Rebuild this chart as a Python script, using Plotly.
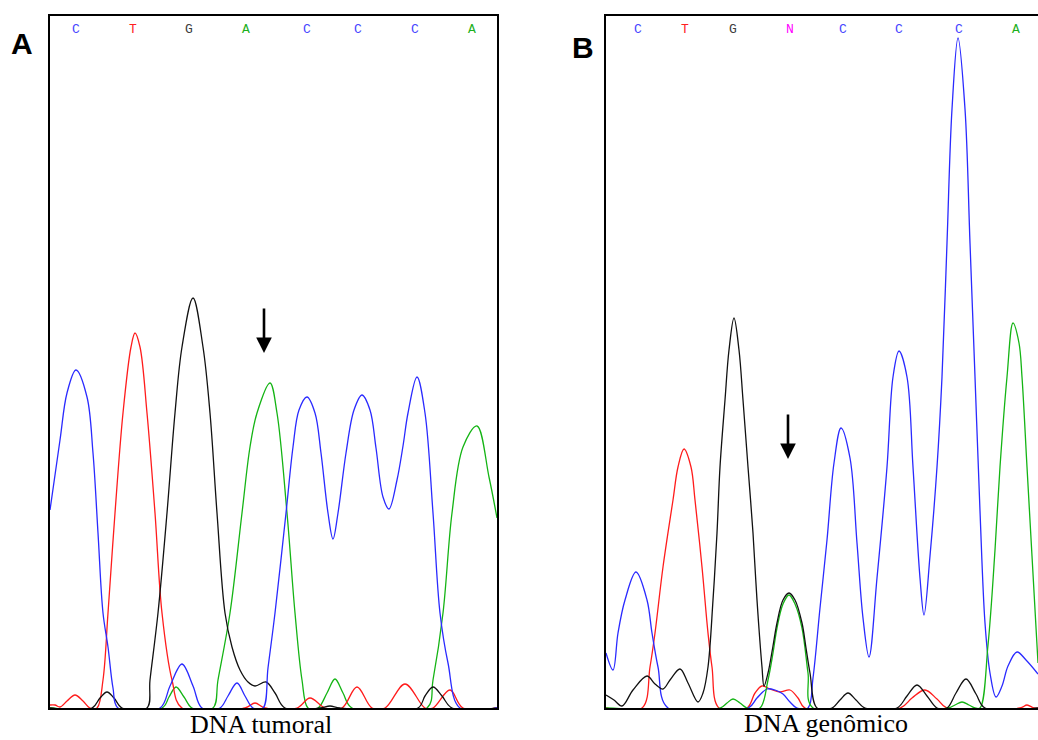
import plotly.graph_objects as go

W, H = 1038, 740

# ---------------- Panel A (DNA tumoral) : signal traces ----------------
a_blue_x = [50, 60, 67, 76, 87, 93, 98, 103, 108, 113, 118, 160, 170, 182, 193, 202, 220, 228, 237, 245,
            253, 263, 268, 275, 286, 293, 299, 307, 315, 321, 328, 333, 338, 346, 354, 362, 370, 376, 383, 389,
            397, 403, 408, 417, 425, 433, 440, 448, 460, 497]
a_blue_y = [198, 268, 315, 338, 311, 255, 175, 95, 61, 20, 0, 0, 22, 44, 22, 0, 0, 12, 25, 12,
            0, 0, 40, 95, 195, 261, 298, 311, 295, 255, 195, 169, 195, 255, 298, 313, 298, 260, 211, 199,
            228, 262, 295, 331, 295, 195, 95, 45, 0, 0]

a_red_x = [50, 55, 60, 67, 75, 83, 90, 97, 103, 108, 115, 123, 131, 135, 140, 147, 155, 162, 172, 182,
           245, 255, 265, 297, 310, 325, 342, 357, 372, 385, 405, 425, 433, 450, 463, 497]
a_red_y = [3, 3, 1, 7, 13, 7, 0, 0, 28, 95, 195, 295, 361, 375, 361, 295, 195, 95, 28, 0,
           0, 5, 0, 0, 10, 0, 0, 21, 0, 0, 24, 0, 0, 18, 0, 0]

a_black_x = [50, 92, 100, 107, 114, 122, 147, 150, 158, 167, 175, 182, 193, 203, 210, 217, 225, 232, 240, 248,
             255, 266, 275, 285, 320, 330, 340, 418, 425, 433, 442, 452, 497]
a_black_y = [0, 0, 10, 16, 10, 0, 0, 28, 95, 195, 295, 361, 410, 361, 295, 195, 95, 61, 38, 26,
             22, 26, 15, 0, 0, 2, 0, 0, 12, 21, 12, 0, 0]

a_green_x = [50, 162, 169, 176, 184, 192, 213, 218, 230, 242, 250, 257, 270, 277, 287, 295, 302, 308, 318, 327,
             335, 343, 352, 427, 433, 443, 452, 463, 477, 489, 497]
a_green_y = [0, 0, 11, 21, 11, 0, 0, 28, 95, 195, 261, 295, 325, 295, 195, 95, 28, 0, 0, 15,
             29, 15, 0, 0, 28, 95, 195, 261, 282, 231, 190]

# ---------------- Panel B (DNA genômico) : signal traces ----------------
b_blue_x = [606, 613, 618, 625, 636, 647, 652, 658, 668, 748, 757, 767, 775, 783, 790, 797, 808, 813, 820, 827,
            834, 841, 850, 857, 863, 869, 877, 887, 893, 899, 907, 913, 920, 924, 930, 937, 942, 947, 952, 958,
            965, 970, 975, 980, 985, 990, 996, 1002, 1008, 1017, 1026, 1038]
b_blue_y = [55, 38, 75, 108, 136, 108, 75, 41, 0, 0, 10, 19, 18, 14, 6, 0, 0, 30, 100, 168,
            245, 280, 250, 165, 90, 51, 130, 241, 331, 357, 331, 241, 130, 93, 152, 241, 331, 465, 599, 670,
            599, 465, 331, 197, 85, 35, 11, 22, 42, 56, 48, 34]

b_red_x = [606, 642, 650, 655, 663, 673, 678, 684, 691, 695, 702, 708, 712, 719, 747, 755, 762, 770, 780, 790,
           798, 805, 900, 912, 925, 937, 947, 1020, 1027, 1034, 1038]
b_red_y = [0, 0, 41, 75, 141, 208, 241, 259, 241, 208, 141, 75, 41, 0, 0, 15, 22, 19, 16, 18,
           10, 0, 0, 10, 18, 9, 0, 0, 3, 0, 0]

b_black_x = [606, 614, 622, 633, 647, 655, 663, 670, 680, 688, 698, 703, 708, 713, 717, 720, 725, 729, 734, 739,
             743, 748, 753, 757, 762, 764, 768, 773, 777, 783, 789, 795, 802, 806, 810, 817, 832, 840, 848, 856,
             865, 897, 907, 917, 927, 937, 947, 956, 966, 976, 985, 1038]
b_black_y = [13, 8, 2, 18, 32, 24, 19, 28, 39, 25, 6, 15, 41, 108, 175, 241, 308, 358, 390, 358,
             308, 241, 175, 108, 41, 22, 35, 62, 85, 108, 115, 108, 85, 60, 35, 0, 0, 8, 15, 8,
             0, 0, 12, 23, 12, 0, 0, 15, 29, 14, 0, 0]

b_green_x = [606, 720, 727, 733, 740, 747, 760, 768, 773, 777, 783, 789, 795, 802, 808, 813, 948, 955, 962, 969,
             975, 980, 988, 995, 1000, 1007, 1013, 1019, 1022, 1027, 1032, 1038]
b_green_y = [0, 0, 5, 9, 5, 0, 0, 28, 55, 80, 104, 113, 104, 80, 35, 0, 0, 3, 6, 3,
             0, 0, 63, 158, 241, 331, 385, 365, 331, 241, 152, 45]

# ---------------- base calls ----------------
bases_A = ["C", "T", "G", "A", "C", "C", "C", "A"]
base_pos_A = [76, 133, 189, 246, 307, 358, 415, 472]
bases_B = ["C", "T", "G", "N", "C", "C", "C", "A"]
base_pos_B = [638, 685, 733, 790, 843, 899, 959, 1016]
base_row_level = 679

arrow_A = (264, 355, 401)   # x, tip level, tail level
arrow_B = (788, 249, 295)

panel_titles = ["DNA tumoral", "DNA genômico"]
panel_letters = ["A", "B"]

# ---------------- styles ----------------
TRACE_COL = {"blue": "#2a2aff", "red": "#ff1c1c", "black": "#111111", "green": "#14b414"}
BASE_COL = {"C": "#4646ff", "T": "#ff2020", "G": "#3c3c3c", "A": "#1cb01c", "N": "#ff00ff"}

fig = go.Figure()

def add_trace(x, y, col, xa, ya):
    fig.add_trace(go.Scatter(x=x, y=y, mode="lines", xaxis=xa, yaxis=ya,
                             line=dict(color=TRACE_COL[col], width=1.3, shape="spline", smoothing=1.0),
                             hoverinfo="skip", showlegend=False))

for (x, y, c) in [(a_green_x, a_green_y, "green"), (a_red_x, a_red_y, "red"),
                  (a_black_x, a_black_y, "black"), (a_blue_x, a_blue_y, "blue")]:
    add_trace(x, y, c, "x", "y")
for (x, y, c) in [(b_red_x, b_red_y, "red"), (b_blue_x, b_blue_y, "blue"),
                  (b_green_x, b_green_y, "green"), (b_black_x, b_black_y, "black")]:
    add_trace(x, y, c, "x2", "y2")

def px_x(p):
    return p / W

def px_y(p):
    return (H - p) / H

y_dom = [px_y(708), px_y(16)]
ax_common = dict(showgrid=False, zeroline=False, showticklabels=False, ticks="",
                 showline=True, linewidth=2, linecolor="black")

annotations = []
for b, p in zip(bases_A, base_pos_A):
    annotations.append(dict(x=p, y=base_row_level, xref="x", yref="y", text=b, showarrow=False,
                            xanchor="center", yanchor="middle",
                            font=dict(family="Liberation Mono", size=13, color=BASE_COL[b])))
for b, p in zip(bases_B, base_pos_B):
    annotations.append(dict(x=p, y=base_row_level, xref="x2", yref="y2", text=b, showarrow=False,
                            xanchor="center", yanchor="middle",
                            font=dict(family="Liberation Mono", size=13, color=BASE_COL[b])))

# arrows
ax_, tip, tail = arrow_A
annotations.append(dict(x=ax_, y=tip, xref="x", yref="y", ax=ax_, ay=tail, axref="x", ayref="y",
                        showarrow=True, arrowhead=2, arrowwidth=2.6, arrowsize=1.2, arrowcolor="black", text=""))
bx_, tipb, tailb = arrow_B
annotations.append(dict(x=bx_, y=tipb, xref="x2", yref="y2", ax=bx_, ay=tailb, axref="x2", ayref="y2",
                        showarrow=True, arrowhead=2, arrowwidth=2.6, arrowsize=1.2, arrowcolor="black", text=""))

def paper_text(xp, yp, txt, family, size, yanchor="middle"):
    return dict(x=px_x(xp), y=px_y(yp), xref="paper", yref="paper", text=txt, showarrow=False,
                xanchor="center", yanchor=yanchor, borderpad=0,
                font=dict(family=family, size=size, color="black"))

annotations.append(paper_text(22, 44, "<b>%s</b>" % panel_letters[0], "Liberation Sans", 30))
annotations.append(paper_text(583, 47, "<b>%s</b>" % panel_letters[1], "Liberation Sans", 30))
annotations.append(paper_text(261, 740, panel_titles[0], "Liberation Serif", 26, yanchor="bottom"))
annotations.append(paper_text(826, 723, panel_titles[1], "Liberation Serif", 26))

fig.update_layout(
    width=W, height=H, margin=dict(l=0, r=0, t=0, b=0),
    paper_bgcolor="white", plot_bgcolor="white", showlegend=False,
    xaxis=dict(domain=[px_x(50), px_x(497)], range=[50, 497], mirror=True, **ax_common),
    yaxis=dict(domain=y_dom, range=[0, 692], mirror=True, **ax_common),
    xaxis2=dict(domain=[px_x(606), 1.0], range=[606, 1038], mirror=True, anchor="y2", **ax_common),
    yaxis2=dict(domain=y_dom, range=[0, 692], mirror=False, anchor="x2", **ax_common),
    annotations=annotations,
)

fig.write_html("out.html", config={"displayModeBar": False},
               post_script="document.body.style.margin='0px';")
